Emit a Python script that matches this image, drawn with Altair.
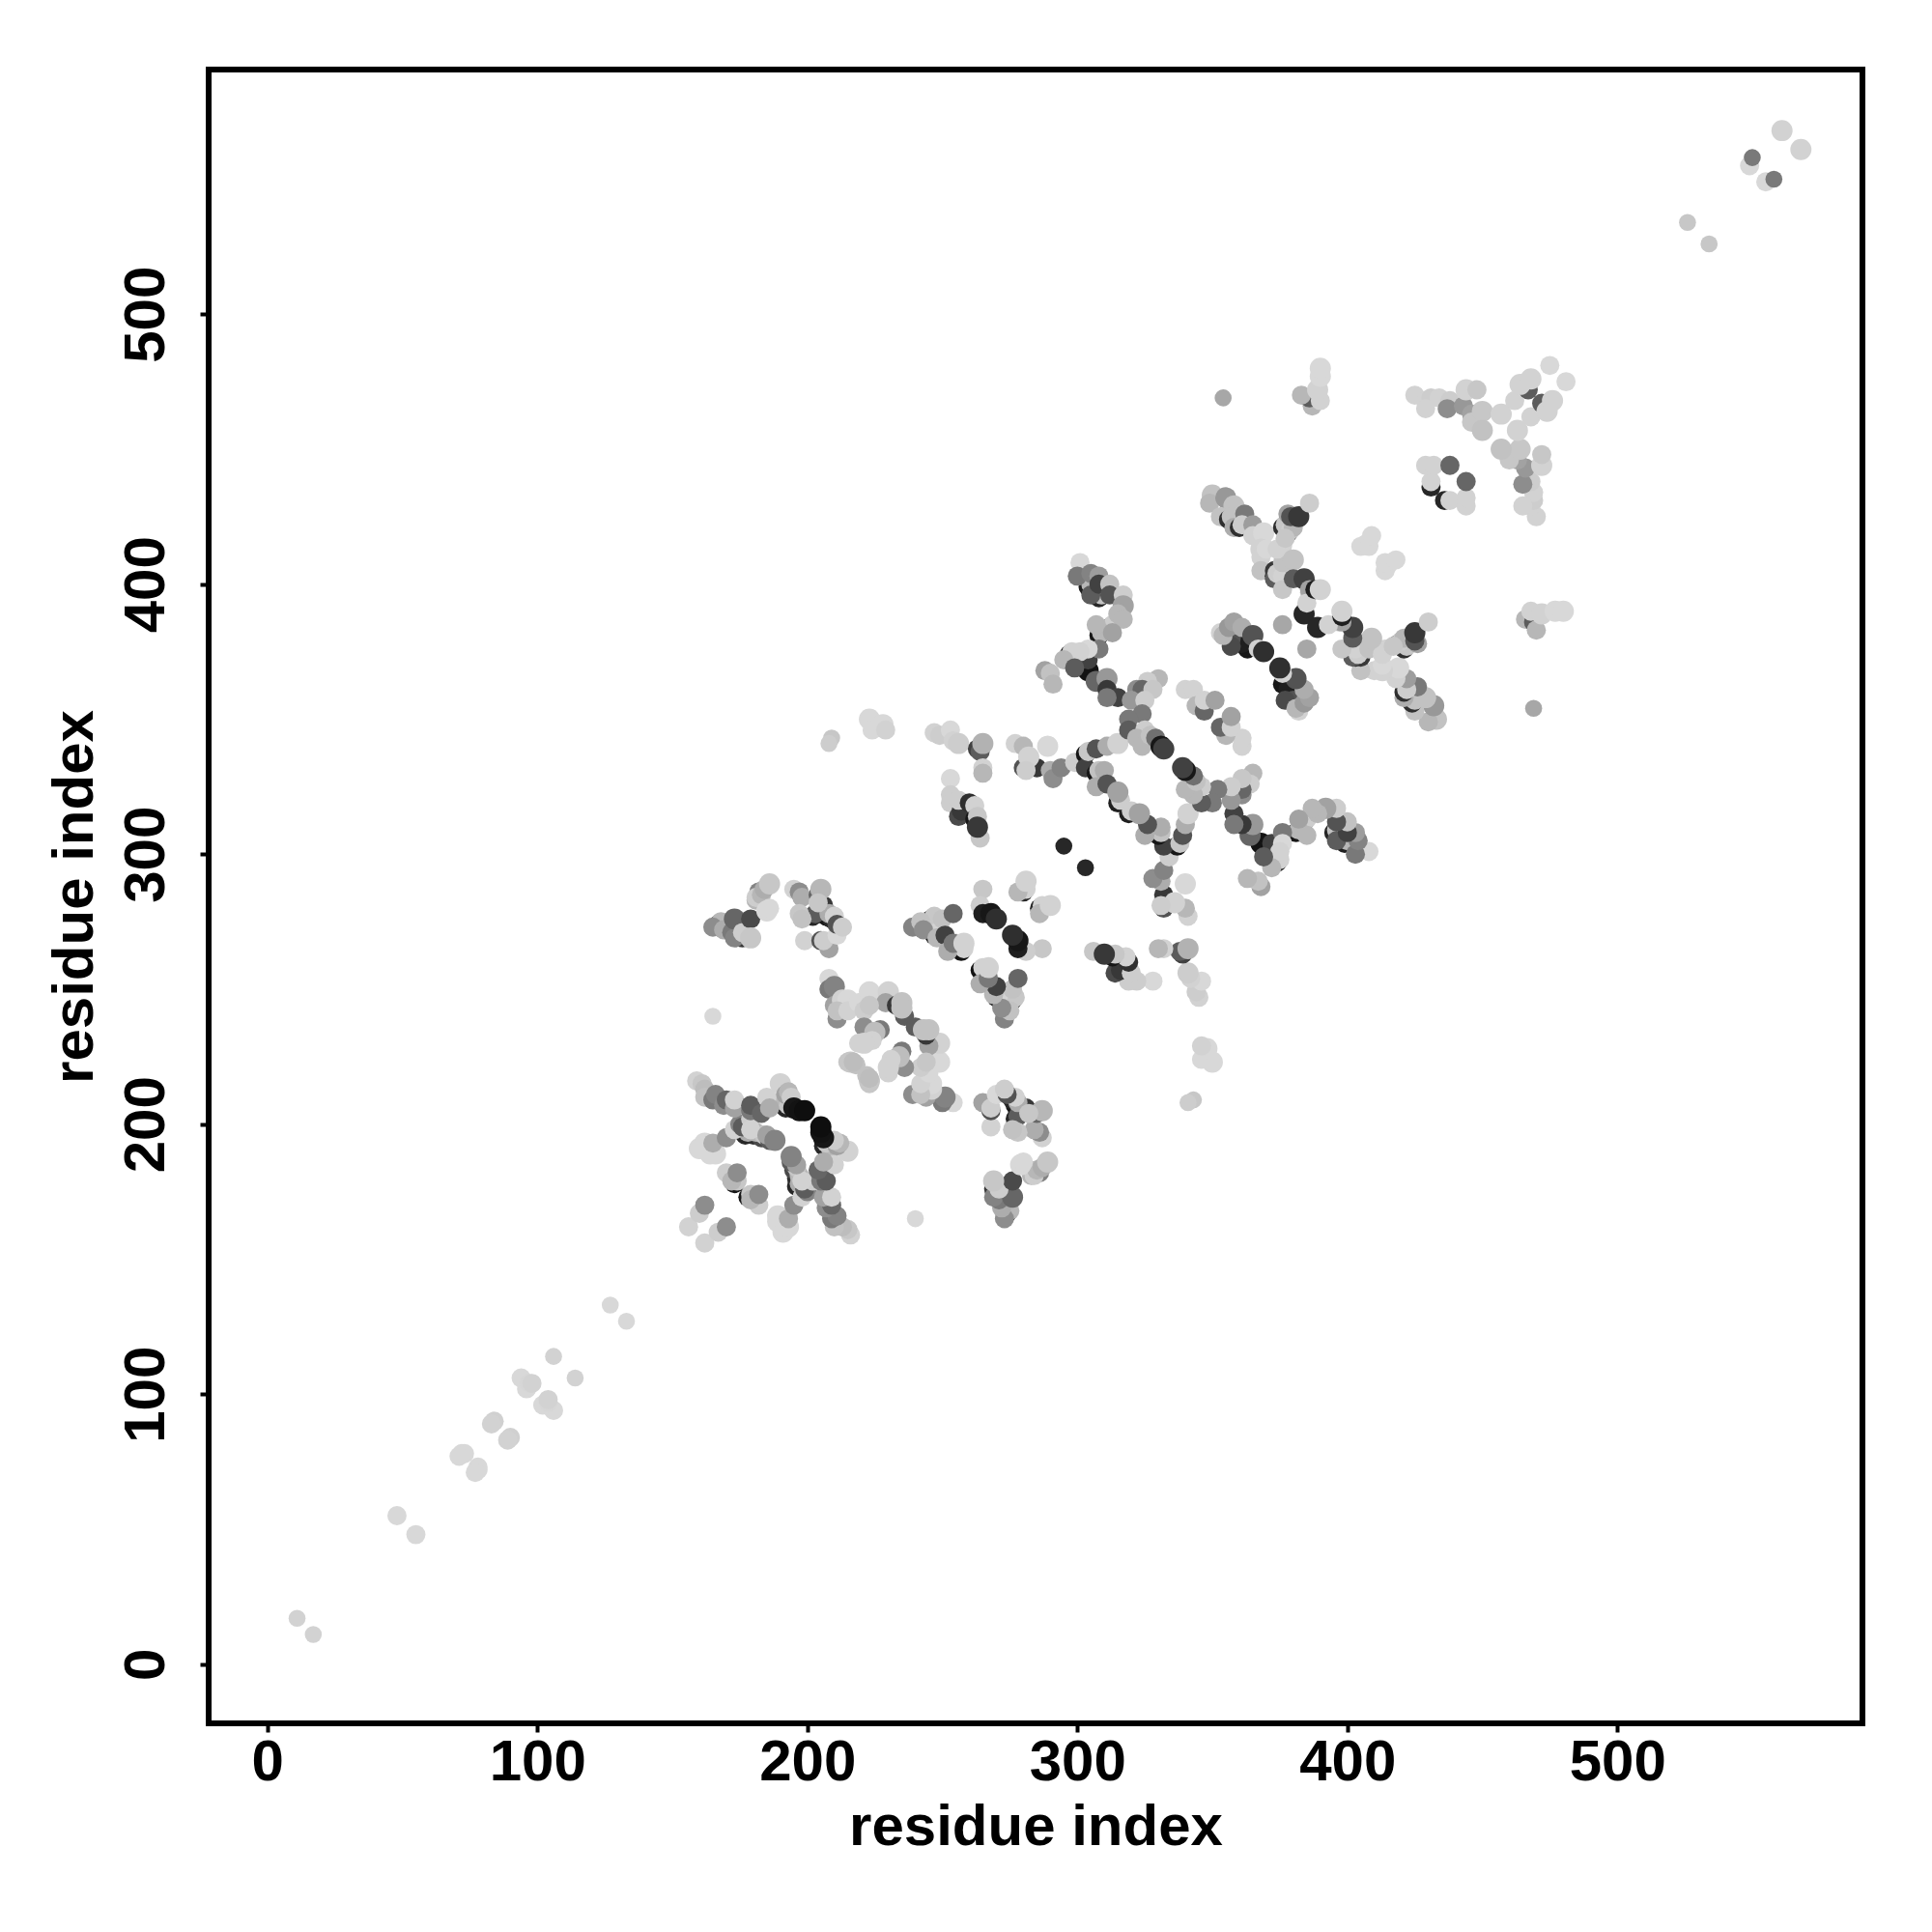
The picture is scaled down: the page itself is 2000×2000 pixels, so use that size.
import altair as alt
import pandas as pd

# Each contact: (residue i, residue j, grey score 0-255, weight class 1-3)
# The map is symmetric, so only i < j is listed and the mirror pair is added below.
near_diagonal = [(11,17,215,1),(48,55,220,2),(72,78,220,2),(73,78,220,2),(71,77,220,2),(84,90,213,2),(83,89,215,2),
    (94,106,220,2),(96,102,220,2),(97,104,218,2),(98,104,215,2),(106,114,215,1),(127,133,220,1),(165,240,220,1),
    (526,534,205,1),(549,555,220,2),(550,558,130,1),(561,568,215,3),(295,303,40,1),(354,469,175,1),(376,385,175,2)]

cluster_a = [(167,274,30,2),(202,277,40,2),(204,279,50,2),(207,277,20,2),(206,281,60,2),(209,276,40,2),(176,269,60,2),
    (203,278,100,2),(208,278,180,2),(210,277,215,2),(168,275,190,2),
    (165,273,150,2),(169,272,180,2),(172,271,130,2),(173,269,140,2),(173,276,110,3),(176,271,210,2),(179,276,80,2),(179,269,205,3),
    (181,283,190,2),(182,286,140,2),(181,284,210,2),(183,285,190,2),(184,287,180,2),(185,279,220,3),(186,280,220,2),(186,289,205,3),
    (195,287,215,2),(197,286,150,2),(198,284,180,2),(197,278,205,2),(198,276,200,2),(199,268,215,2),
    (205,268,90,2),(208,265,170,2),(206,268,210,2),(211,270,220,2),(204,285,110,2),(205,287,190,3),(204,282,205,2),(211,274,90,2),(213,273,210,2)]

cluster_b = [(190,208,40,2),(191,207,30,2),(192,206,40,2),(177,196,40,2),(180,196,50,2),(183,195,80,2),(173,178,20,2),
    (191,209,200,2),(192,208,190,2),(193,207,205,2),(178,197,180,2),(181,197,190,2),(184,196,205,2),(174,179,205,2),
    (156,162,215,2),(160,167,210,2),(162,170,150,2),(160,191,220,3),(162,193,220,3),(164,189,220,3),(166,189,220,3),(165,193,180,2),
    (170,195,150,2),(173,198,215,2),(175,200,140,2),(176,199,100,2),(179,202,210,2),(179,198,215,2),(186,194,100,2),(185,196,170,2),(188,194,140,3),
    (170,182,210,2),(172,179,190,2),(174,182,150,2),
    (159,216,215,2),(161,215,205,2),(162,213,195,2),(162,210,200,2),(165,209,130,2),(166,211,140,2),(169,207,150,2),(170,209,110,2),(173,206,170,2),(173,209,215,2),
    (179,205,130,2),(179,207,100,2),(183,204,110,2),(185,210,215,2),(186,206,180,2),
    (190,215,215,3),(192,211,170,2),(193,212,190,2),(194,210,210,2),(195,206,20,3),(197,205,15,3),(199,205,10,3)]

cluster_c = [(208,254,220,2),(208,250,130,2),(210,251,140,3),(211,239,150,2),(210,244,170,2),(213,246,215,3),(215,246,220,3),(211,242,200,2),
    (215,242,215,2),(219,245,220,2),(223,249,220,3),(230,249,215,3),(229,245,170,2),(221,242,210,2),(223,244,205,2),(236,240,100,2),(233,244,60,2),(235,245,200,3),(235,243,200,3),
    (221,236,150,2),(224,232,140,2),(227,235,130,2),(225,234,195,3),(219,230,215,2),(224,231,215,2),(221,230,215,3),(215,223,205,2),(216,223,205,3),(222,218,200,2),(223,217,195,2)]

cluster_d = [(246,276,30,2),(247,270,30,2),(254,266,30,2),(257,264,15,2),(280,286,40,2),
    (247,277,205,2),(248,271,215,2),(255,267,215,2),(258,265,215,2),(281,287,215,2),
    (239,273,140,2),(242,275,200,2),(243,272,150,2),(248,269,190,2),(250,276,200,2),(251,270,70,2),(254,278,110,2),(252,264,180,2),(254,267,130,2),(258,267,215,3),
    (265,287,205,2),(264,281,210,2),(265,278,30,2),(268,278,20,3),(270,276,50,3),(278,286,190,2),(281,290,215,3)]

cluster_e = [(209,343,205,1),(208,341,210,1),(223,350,220,3),(224,346,220,2),(228,348,220,3),(229,346,215,2),
    (247,345,215,2),(249,344,210,2),(253,346,220,2),(254,342,215,2),(256,341,210,3),
    (263,339,70,2),(264,338,100,2),(265,341,185,3),(265,332,215,2),(265,330,190,2),
    (253,328,220,2),(253,322,210,2),(253,319,210,2),(256,314,80,2),(257,316,60,2),(256,320,210,2),(260,319,50,2),(262,318,215,2),(264,306,205,2),(262,313,20,2),(263,314,205,2),(263,310,60,3),
    (280,332,90,2),(285,332,60,2),(277,341,215,2),(280,340,190,2),(282,336,215,3),(289,340,220,3),(281,331,210,2),(290,331,180,2),(291,328,150,2),(294,332,140,2),(299,334,210,2),
    (303,337,20,2),(303,332,70,2),(307,330,20,2),(304,338,205,2),(308,331,200,2),(307,339,90,2),(311,340,180,2),(315,341,215,3),(310,331,180,2),(307,325,180,2),(311,326,90,2),(315,319,30,2),(316,320,210,2),(315,323,170,3)]

cluster_f = [(304,399,30,2),(308,395,40,2),(312,384,20,2),(308,381,20,2),(297,374,40,2),(304,368,15,3),(304,372,70,2),
    (305,400,190,2),(309,396,200,2),(313,385,210,2),(309,382,190,2),(298,375,215,2),
    (301,408,220,2),(300,403,130,2),(305,404,140,2),(308,403,165,2),(305,396,100,2),(308,400,70,2),(312,400,200,2),(312,396,90,2),(317,396,210,2),(317,392,170,3),
    (315,389,190,2),(317,387,190,2),(307,385,190,2),(313,382,170,2),(308,376,130,2),(304,376,220,2),(301,375,215,2),
    (295,372,190,2),(288,368,170,2),(290,367,200,2),(291,363,190,2),(299,369,100,2),
    (307,364,110,3),(311,365,160,3),(311,361,60,2),(315,358,70,2),(311,358,130,2),
    (330,365,190,2),(326,364,210,2),(322,361,150,2),(324,361,110,2),(328,361,205,2),(320,357,160,2),(325,357,210,2),(324,352,130,2),(319,350,130,2),(319,346,100,2),(325,346,210,2),
    (322,343,190,2),(324,340,190,2),(327,344,200,2),(329,343,120,2),(331,340,20,3),(332,339,70,3)]

cluster_g = [(340,361,215,2),(343,361,215,2),(344,355,190,2),(347,353,110,2),(347,357,215,2),(351,357,170,2)]

cluster_h = [(359,380,20,2),(363,376,20,2),(361,378,30,2),(357,380,90,2),(357,377,80,2),(353,382,215,2),(354,381,190,2),(356,384,160,2),(358,386,170,2),(361,384,180,2),(365,381,90,3),(367,376,215,2),(369,375,50,3)]

cluster_i = [(350,433,200,3),(349,430,190,2),(355,432,160,3),(358,429,200,3),(353,425,200,2),(356,424,50,2),(357,425,200,2),(358,421,180,2),(362,426,130,2),(360,421,50,2),(361,422,210,2),(365,422,165,2),(365,418,215,2),(369,419,220,3),
    (368,413,215,3),(368,410,215,2),(368,405,200,2),(370,413,220,2),
    (373,403,20,2),(375,402,30,2),(373,405,60,2),(373,402,100,2),(374,404,210,2),(376,403,215,2),(376,398,205,2),(376,408,200,2),(376,414,215,2),(374,413,215,2),(380,409,200,3),(380,402,100,2),(384,402,70,3),
    (376,421,50,2),(378,419,50,2),(377,422,205,2),(379,420,210,2),(380,421,190,2),(377,417,205,2),(378,426,170,2),(379,425,90,2),(382,425,60,3),(386,430,210,2),
    (384,389,40,3),(386,397,205,2),(386,398,170,2),(385,393,215,2),(388,398,30,2),(390,398,215,3)]

cluster_j = [(387,466,190,2),(386,469,100,2),(383,470,190,2),(390,468,215,2),(389,472,215,3),(390,477,220,3),(390,480,220,3),
    (405,414,220,2),(407,415,220,2),(408,414,220,2),(409,418,220,2)]

cluster_k = [(425,470,215,2),(429,468,215,2),(431,469,210,2),(434,469,215,2),(438,468,210,2),(429,465,215,2),(437,465,150,2),(443,466,160,2),(446,463,170,2),
    (444,472,215,3),(448,472,205,2),(446,460,205,2),(450,464,205,3),(450,457,200,3),(457,463,215,3),(462,468,215,2),(467,472,100,2),(464,474,215,3),(468,476,215,3),(475,481,220,2)]

cluster_l = [(431,436,40,2),(431,438,215,2),(429,444,215,2),(432,444,215,2),(438,444,110,2)]

clusters = [near_diagonal, cluster_a, cluster_b, cluster_c, cluster_d, cluster_e, cluster_f,
            cluster_g, cluster_h, cluster_i, cluster_j, cluster_k, cluster_l]

tick_values = [0, 100, 200, 300, 400, 500]

rows = []
for cluster in clusters:
    for i, j, score, weight in cluster:
        rows.append({"x": i, "y": j, "score": score, "weight": weight})
        rows.append({"x": j, "y": i, "score": score, "weight": weight})
data = pd.DataFrame(rows)

FONT = "Liberation Sans"
x_axis = alt.Axis(values=tick_values, title="residue index", grid=False, domain=False,
                  tickSize=9, tickWidth=4, tickColor="black", labelFont=FONT, labelFontSize=60,
                  labelFontWeight="bold", labelColor="black", labelPadding=2, labelFlush=False, labelOverlap=False,
                  titleFont=FONT, titleFontSize=60, titleFontWeight="bold", titleColor="black", titlePadding=8)
y_axis = alt.Axis(values=tick_values, title="residue index", grid=False, domain=False,
                  tickSize=9, tickWidth=4, tickColor="black", labelFont=FONT, labelFontSize=60,
                  labelFontWeight="bold", labelColor="black", labelAngle=270, labelAlign="center",
                  labelBaseline="bottom", labelPadding=25, labelFlush=False, labelOverlap=False,
                  titleFont=FONT, titleFontSize=60, titleFontWeight="bold", titleColor="black", titlePadding=13)

chart = (
    alt.Chart(data)
    .mark_circle(opacity=1, stroke=None)
    .encode(
        x=alt.X("x:Q", scale=alt.Scale(domain=[-21.75, 590.8], nice=False, zero=False), axis=x_axis),
        y=alt.Y("y:Q", scale=alt.Scale(domain=[-21.9, 590.6], nice=False, zero=False), axis=y_axis),
        color=alt.Color("score:Q", scale=alt.Scale(domain=[0, 255], range=["#000000", "#ffffff"]), legend=None),
        size=alt.Size("weight:Q", scale=alt.Scale(domain=[1, 3], range=[310, 480], zero=False), legend=None),
    )
    .properties(width=1712, height=1712, background="white",
                autosize=alt.AutoSizeParams(type="none"),
                padding={"left": 208, "top": 64, "right": 64, "bottom": 200})
    .configure_view(stroke="black", strokeWidth=6)
)

chart.save("out.html", embed_options={"renderer": "svg", "actions": False})
